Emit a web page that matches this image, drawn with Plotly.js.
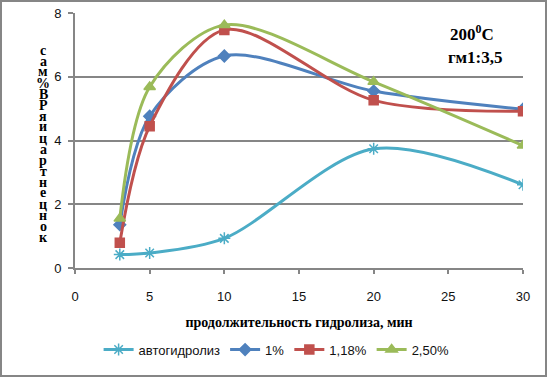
<!DOCTYPE html>
<html><head><meta charset="utf-8">
<script src="https://cdn.plot.ly/plotly-3.0.1.min.js"></script>
<style>html,body{margin:0;padding:0;background:#fff;}#chart{width:549px;height:377px;}</style>
</head><body><div id="chart"></div>
<script>
var timeMin = [3, 5, 10, 20, 30];
var autohydrolysis = [0.42, 0.47, 0.93, 3.74, 2.61];
var acid1 = [1.36, 4.76, 6.65, 5.55, 4.98];
var acid118 = [0.79, 4.45, 7.47, 5.26, 4.92];
var acid250 = [1.55, 5.68, 7.62, 5.84, 3.84];
var seriesNames = ['автогидролиз', '1%', '1,18%', '2,50%'];
var yTitleLetters = ['с','а','м','%','В','Р','я','и','ц','а','р','т','н','е','ц','н','о','к'];
var noteLine1 = '200<sup>0</sup>C';
var noteLine2 = 'гм1:3,5';
var xTitle = 'продолжительность гидролиза, мин';

var colors = ['#4BACC6', '#4F81BD', '#C0504D', '#9BBB59'];
var symbols = ['asterisk-open', 'diamond', 'square', 'triangle-up'];
var sizes = [10, 9, 9, 10];
var allY = [autohydrolysis, acid1, acid118, acid250];

var traces = allY.map(function(ys, i){
  return {
    x: timeMin, y: ys, name: seriesNames[i], type: 'scatter', mode: 'lines+markers',
    line: {color: colors[i], width: 3, shape: 'spline', smoothing: 0.9},
    marker: {color: colors[i], symbol: symbols[i], size: sizes[i], line: {color: colors[i], width: 1.5}}
  };
});

var annotations = yTitleLetters.map(function(ch, i){
  var ypx = 50 + i * 11;
  return {text: '<b>' + ch + '</b>', xref: 'paper', yref: 'paper', x: (43 - 75) / 448, y: (268 - ypx) / 255,
    showarrow: false, xanchor: 'center', yanchor: 'middle',
    font: {family: 'Liberation Serif', size: 14, color: '#000'}};
});
annotations.push({text: '<b>' + noteLine1 + '</b>', xref: 'paper', yref: 'paper', x: (472 - 75) / 448, y: (268 - 33) / 255,
  showarrow: false, xanchor: 'center', yanchor: 'middle', font: {family: 'Liberation Serif', size: 17, color: '#000'}});
annotations.push({text: '<b>' + noteLine2 + '</b>', xref: 'paper', yref: 'paper', x: (475 - 75) / 448, y: (268 - 57) / 255,
  showarrow: false, xanchor: 'center', yanchor: 'middle', font: {family: 'Liberation Serif', size: 17, color: '#000'}});

var layout = {
  width: 549, height: 377,
  margin: {l: 75, r: 26, t: 13, b: 109},
  paper_bgcolor: '#fff', plot_bgcolor: '#fff',
  showlegend: true,
  font: {family: 'Liberation Sans', size: 13, color: '#111'},
  xaxis: {
    range: [0, 30], dtick: 5, tick0: 0, showgrid: false, zeroline: false,
    showline: true, linecolor: '#868686', linewidth: 2,
    ticks: 'outside', ticklen: 4, tickwidth: 2, tickcolor: '#868686',
    ticklabelstandoff: 11,
    tickfont: {family: 'Liberation Sans', size: 13, color: '#111'},
    title: {text: '<b>' + xTitle + '</b>', font: {family: 'Liberation Serif', size: 14, color: '#000'}, standoff: 15}
  },
  yaxis: {
    range: [0, 8], dtick: 2, showgrid: true, gridcolor: '#868686', gridwidth: 2, zeroline: false,
    showline: true, linecolor: '#868686', linewidth: 2,
    ticks: 'outside', ticklen: 5, tickwidth: 2, tickcolor: '#868686',
    ticklabelstandoff: 4,
    tickfont: {family: 'Liberation Sans', size: 13, color: '#111'}
  },
  legend: {orientation: 'h', x: 0.45, xanchor: 'center', y: -0.32, yanchor: 'middle',
    font: {family: 'Liberation Sans', size: 13, color: '#111'}, itemwidth: 30, traceorder: 'normal'},
  annotations: annotations,
  shapes: [{type: 'rect', xref: 'paper', yref: 'paper', x0: -74/448, x1: 546/448 - 75/448, y0: (268 - 376)/255, y1: (268 - 1)/255,
    line: {color: '#868686', width: 2}, fillcolor: 'rgba(0,0,0,0)', layer: 'below'}]
};

Plotly.newPlot('chart', traces, layout, {displayModeBar: false, staticPlot: true});
</script></body></html>
